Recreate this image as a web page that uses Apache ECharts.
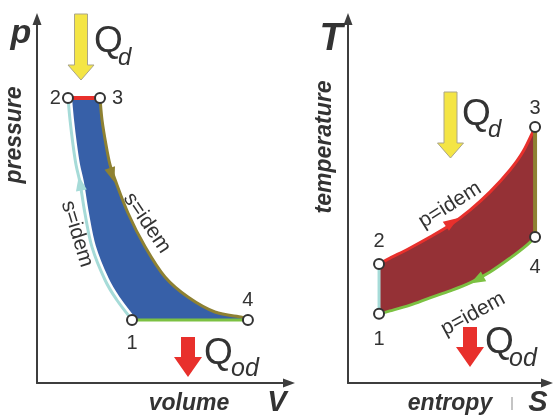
<!DOCTYPE html>
<html>
<head>
<meta charset="utf-8">
<script src="https://cdn.jsdelivr.net/npm/echarts@6/dist/echarts.min.js"></script>
<style>html,body{margin:0;padding:0;background:#fff}#c{width:554px;height:417px}</style>
</head>
<body>
<div id="c"></div>
<script>
// ---- p-V diagram (Brayton cycle) ----
const pvCompression = [[3.77,1.73],[3.17,2.28],[2.70,2.83],[2.18,3.74],[1.90,4.67],[1.71,5.49],[1.55,5.99],[1.43,6.54],[1.31,7.23],[1.23,7.83]]; // 1 -> 2, s = idem
const pvHeatIn = [[1.23,7.83],[2.50,7.83]]; // 2 -> 3, p = idem
const pvExpansion = [[2.50,7.83],[2.58,7.23],[2.74,6.54],[2.90,5.99],[3.10,5.58],[3.61,4.67],[4.29,3.74],[5.08,2.91],[5.99,2.36],[7.06,1.95],[8.13,1.81],[8.37,1.73]]; // 3 -> 4, s = idem
const pvHeatOut = [[8.37,1.73],[3.77,1.73]]; // 4 -> 1, p = idem
const pvStates = [[3.77,1.73],[1.23,7.83],[2.50,7.83],[8.37,1.73]];
const pvArrows = [[1.71,5.49],[2.98,5.71]];

// ---- T-s diagram ----
const tsCompression = [[1.56,1.90],[1.56,3.27]]; // 1 -> 2
const tsHeatIn = [[1.56,3.27],[2.11,3.43],[3.12,3.71],[4.12,4.01],[5.13,4.34],[6.13,4.75],[7.14,5.25],[8.14,5.85],[8.79,6.35],[9.40,7.03]]; // 2 -> 3
const tsExpansion = [[9.40,7.03],[9.40,4.01]]; // 3 -> 4
const tsHeatOut = [[9.40,4.01],[8.99,3.79],[8.14,3.43],[7.14,3.05],[6.13,2.75],[5.13,2.53],[4.12,2.34],[3.12,2.14],[2.11,1.98],[1.56,1.90]]; // 4 -> 1
const tsStates = [[1.56,1.90],[1.56,3.27],[9.40,7.03],[9.40,4.01]];
const tsArrows = [[5.23,4.42],[6.48,2.83]];

const stateLabels = ['1','2','3','4'];

const C = {
  cyan:'#a6dbd8', olive:'#8e8132', red:'#e8302c', green:'#7cc142',
  blue:'#3760a8', dark:'#953136', yellow:'#f4e545', text:'#333333', axis:'#3d3d3d'
};
const FONT = '"Liberation Sans", Arial, sans-serif';

function spline(pts) {
  let d = '';
  for (let i = 0; i < pts.length - 1; i++) {
    const p0 = pts[Math.max(i - 1, 0)], p1 = pts[i], p2 = pts[i + 1], p3 = pts[Math.min(i + 2, pts.length - 1)];
    const c1 = [p1[0] + (p2[0] - p0[0]) / 6, p1[1] + (p2[1] - p0[1]) / 6];
    const c2 = [p2[0] - (p3[0] - p1[0]) / 6, p2[1] - (p3[1] - p1[1]) / 6];
    d += ' C' + c1[0] + ' ' + c1[1] + ' ' + c2[0] + ' ' + c2[1] + ' ' + p2[0] + ' ' + p2[1];
  }
  return d;
}
function pathFrom(segs, close) {
  let d = 'M' + segs[0][0][0] + ' ' + segs[0][0][1];
  segs.forEach(s => { d += spline(s); });
  return close ? d + ' Z' : d;
}
function fillSeries(grid, segsData, color) {
  return {
    type: 'custom', xAxisIndex: grid, yAxisIndex: grid, z: 1, silent: true,
    data: [].concat.apply([], segsData),
    renderItem: function (params, api) {
      if (params.dataIndex !== 0) return null;
      const segs = segsData.map(s => s.map(p => api.coord(p)));
      return { type: 'path', shape: { pathData: pathFrom(segs, true) }, style: { fill: color, stroke: 'none' } };
    }
  };
}
function curveSeries(grid, data, color, width, z) {
  return {
    type: 'custom', xAxisIndex: grid, yAxisIndex: grid, z: z || 2, silent: true,
    data: data,
    renderItem: function (params, api) {
      if (params.dataIndex !== 0) return null;
      const px = data.map(p => api.coord(p));
      return { type: 'path', shape: { pathData: pathFrom([px], false) },
        style: { fill: 'none', stroke: color, lineWidth: width, lineCap: 'butt', lineJoin: 'round' } };
    }
  };
}
function statesSeries(grid, data, positions, distances) {
  return {
    type: 'scatter', xAxisIndex: grid, yAxisIndex: grid, z: 6, silent: true,
    symbol: 'circle', symbolSize: 10,
    itemStyle: { color: '#ffffff', borderColor: '#333333', borderWidth: 2, opacity: 1 },
    label: { show: true, formatter: '{b}', fontSize: 20, color: C.text, fontFamily: FONT },
    data: data.map((p, i) => ({ value: p, name: stateLabels[i], label: { position: positions[i], distance: distances[i] } }))
  };
}
function arrowSeries(grid, data, rots, colors) {
  return {
    type: 'scatter', xAxisIndex: grid, yAxisIndex: grid, z: 5, silent: true,
    symbol: 'triangle', symbolSize: [11, 15],
    data: data.map((p, i) => ({ value: p, symbolRotate: rots[i], itemStyle: { color: colors[i], opacity: 1 } }))
  };
}
function axisCommon(grid) {
  return {
    gridIndex: grid, type: 'value', min: 0, max: 10,
    axisLine: { show: true, onZero: false, symbol: ['none', 'triangle'], symbolSize: [9, 12], lineStyle: { color: C.axis, width: 2 } },
    axisTick: { show: false }, axisLabel: { show: false }, splitLine: { show: false }
  };
}
function heatArrow(tipX, tipY, color, stroke) {
  return { type: 'polygon', z: 10, silent: true,
    shape: { points: [[tipX - 6.5, tipY - 66], [tipX + 6.5, tipY - 66], [tipX + 6.5, tipY - 15], [tipX + 13, tipY - 15], [tipX, tipY], [tipX - 13, tipY - 15], [tipX - 6.5, tipY - 15]] },
    style: { fill: color, stroke: stroke, lineWidth: 1 } };
}
function coolArrow(tipX, tipY) {
  return { type: 'polygon', z: 10, silent: true,
    shape: { points: [[tipX - 7, tipY - 40], [tipX + 7, tipY - 40], [tipX + 7, tipY - 20], [tipX + 14, tipY - 20], [tipX, tipY], [tipX - 14, tipY - 20], [tipX - 7, tipY - 20]] },
    style: { fill: C.red } };
}
function txt(x, y, text, font, opts) {
  opts = opts || {};
  return { type: 'text', z: 10, silent: true, x: x, y: y, rotation: (opts.rot || 0) * Math.PI / 180,
    style: { text: text, font: font, fill: opts.fill || C.text, align: opts.align || 'center', verticalAlign: 'middle' } };
}

const option = {
  animation: false,
  backgroundColor: '#ffffff',
  grid: [
    { left: 37, top: 19, width: 252, height: 364 },
    { left: 348, top: 19, width: 199, height: 364 }
  ],
  xAxis: [axisCommon(0), axisCommon(1)],
  yAxis: [axisCommon(0), axisCommon(1)],
  series: [
    fillSeries(0, [pvCompression, pvHeatIn, pvExpansion, pvHeatOut], C.blue),
    curveSeries(0, pvCompression, '#ffffff', 8, 2),
    curveSeries(0, pvCompression, C.cyan, 3, 3),
    curveSeries(0, pvHeatIn, C.red, 4, 3),
    curveSeries(0, pvExpansion, C.olive, 3, 3),
    curveSeries(0, pvHeatOut, C.green, 3, 3),
    arrowSeries(0, pvArrows, [10, -162], [C.cyan, C.olive]),
    statesSeries(0, pvStates, ['bottom', 'left', 'right', 'top'], [7, 1, 6, 4]),

    fillSeries(1, [tsCompression, tsHeatIn, tsExpansion, tsHeatOut], C.dark),
    curveSeries(1, tsCompression, C.cyan, 3, 3),
    curveSeries(1, tsHeatIn, C.red, 3, 3),
    curveSeries(1, tsExpansion, C.olive, 4, 3),
    curveSeries(1, tsHeatOut, C.green, 3, 3),
    arrowSeries(1, tsArrows, [-56, 119], [C.red, C.green]),
    statesSeries(1, tsStates, ['bottom', 'top', 'top', 'bottom'], [10, 6, 3, 14])
  ],
  graphic: [
    // axis titles
    txt(21, 34, 'p', 'italic bold 34px ' + FONT),
    txt(15, 135, 'pressure', 'italic bold 23px ' + FONT, { rot: 90 }),
    txt(189, 404, 'volume', 'italic bold 23px ' + FONT),
    txt(277, 403, 'V', 'italic bold 29px ' + FONT),
    txt(331, 40, 'T', 'italic bold 38px ' + FONT),
    txt(325, 147, 'temperature', 'italic bold 23px ' + FONT, { rot: 90 }),
    txt(450, 404, 'entropy', 'italic bold 23px ' + FONT),
    txt(538, 403, 'S', 'italic bold 29px ' + FONT),
    { type: 'rect', z: 10, silent: true, shape: { x: 511, y: 397, width: 2, height: 13 }, style: { fill: '#c4c4c4' } },
    // heat flows
    heatArrow(81, 80, C.yellow, '#aaa58a'),
    heatArrow(450.5, 158, C.yellow, '#aaa58a'),
    coolArrow(188, 377),
    coolArrow(470, 367),
    txt(94, 42, 'Q', '37px ' + FONT, { align: 'left' }),
    txt(118, 58.5, 'd', 'italic 24px ' + FONT, { align: 'left' }),
    txt(462, 115, 'Q', '37px ' + FONT, { align: 'left' }),
    txt(488, 130, 'd', 'italic 24px ' + FONT, { align: 'left' }),
    txt(204, 354, 'Q', '37px ' + FONT, { align: 'left' }),
    txt(231, 369, 'od', 'italic 25px ' + FONT, { align: 'left' }),
    txt(485, 343, 'Q', '37px ' + FONT, { align: 'left' }),
    txt(509, 359, 'od', 'italic 25px ' + FONT, { align: 'left' }),
    // process labels
    txt(77, 234, 's=idem', '21px ' + FONT, { rot: -73 }),
    txt(147, 223, 's=idem', '21px ' + FONT, { rot: -56 }),
    txt(450, 205, 'p=idem', '21px ' + FONT, { rot: 32 }),
    txt(473, 314, 'p=idem', '21px ' + FONT, { rot: 28.5 })
  ]
};

const chart = echarts.init(document.getElementById('c'), null, { renderer: 'canvas' });
chart.setOption(option);
</script>
</body>
</html>
